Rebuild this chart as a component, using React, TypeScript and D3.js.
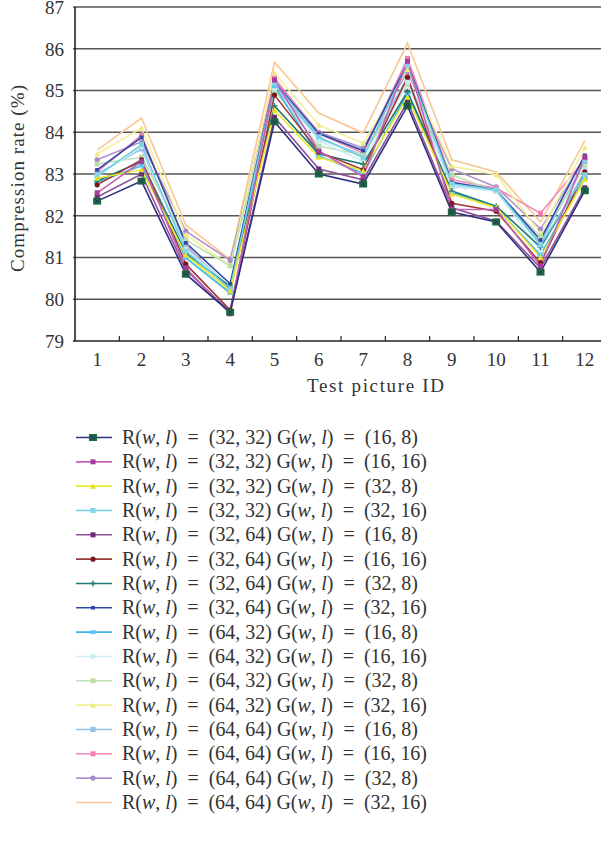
import React from "react";
import * as d3 from "d3";

const pictureIds = ["1", "2", "3", "4", "5", "6", "7", "8", "9", "10", "11", "12"];
const yTicks = [79, 80, 81, 82, 83, 84, 85, 86, 87];

const rSizes = ["32, 32", "32, 32", "32, 32", "32, 32", "32, 64", "32, 64", "32, 64", "32, 64",
  "64, 32", "64, 32", "64, 32", "64, 32", "64, 64", "64, 64", "64, 64", "64, 64"];
const gSizes = ["16, 8", "16, 16", "32, 8", "32, 16", "16, 8", "16, 16", "32, 8", "32, 16",
  "16, 8", "16, 16", "32, 8", "32, 16", "16, 8", "16, 16", "32, 8", "32, 16"];

const lineColors = ["#2e2f7e", "#c462b8", "#eeea2a", "#70d0e0", "#8e5099", "#9e3a3a", "#1f7a74", "#3048a8",
  "#3cb6e6", "#cdeef3", "#bfe0b4", "#f2f098", "#94c2ea", "#f48ab8", "#b394cc", "#f8c796"];
const markerColors = ["#1a6a3a", "#a53c9c", "#e8e020", "#88d8e8", "#6c2a78", "#7a1a1a", "#1f7a74", "#3048a8",
  "#60c8f0", "#c8ecf2", "#b8dcaa", "#eeea80", "#90c0e8", "#f080b0", "#a888c8", "#f8c796"];
const markerShapes = ["boxx", "square", "triangle", "xsquare", "square", "circle", "plus", "dot",
  "dash", "circle", "square", "triangle", "xsquare", "square", "circle", "none"];

const s1 = [82.35, 82.83, 80.6, 79.69, 84.25, 83.0, 82.76, 84.63, 82.09, 81.85, 80.65, 82.6];
const s2 = [82.55, 83.3, 80.75, 79.65, 85.25, 83.55, 82.94, 85.7, 82.15, 82.15, 80.8, 83.4];
const s3 = [82.9, 83.1, 81.06, 80.2, 84.53, 83.4, 83.08, 84.84, 82.52, 82.2, 81.0, 82.87];
const s4 = [82.95, 83.7, 81.15, 80.25, 85.18, 83.89, 83.39, 85.6, 82.76, 82.62, 81.3, 82.98];
const s5 = [82.45, 83.0, 80.7, 79.7, 84.36, 83.12, 82.86, 84.73, 82.19, 81.87, 80.75, 82.67];
const s6 = [82.74, 83.34, 80.84, 79.74, 84.89, 83.53, 83.1, 85.32, 82.3, 82.11, 80.87, 83.05];
const s7 = [82.83, 83.3, 81.1, 80.3, 84.63, 83.48, 83.24, 84.97, 82.59, 82.23, 81.25, 83.0];
const s8 = [83.1, 83.88, 81.35, 80.37, 85.2, 83.97, 83.56, 85.66, 82.8, 82.62, 81.42, 83.45];
const s9 = [82.8, 83.2, 80.99, 80.15, 85.1, 83.43, 83.02, 84.93, 82.55, 82.19, 81.06, 82.9];
const s10 = [82.95, 83.65, 81.2, 80.3, 85.05, 83.8, 83.3, 85.2, 82.72, 82.58, 81.18, 83.1];
const s11 = [83.24, 83.4, 81.42, 80.8, 85.0, 83.67, 83.46, 85.15, 82.98, 82.58, 81.5, 83.17];
const s12 = [83.48, 84.1, 81.55, 80.8, 85.42, 84.17, 83.74, 85.5, 83.19, 82.98, 81.59, 83.63];
const s13 = [83.0, 83.6, 81.25, 80.3, 85.1, 83.85, 83.45, 85.3, 82.7, 82.6, 81.35, 83.3];
const s14 = [83.05, 83.93, 81.3, 80.22, 85.3, 83.97, 83.5, 85.77, 82.86, 82.66, 82.06, 83.35];
const s15 = [83.34, 83.77, 81.63, 80.93, 85.25, 84.0, 83.62, 85.45, 83.12, 82.69, 81.68, 83.37];
const s16 = [83.57, 84.34, 81.78, 80.95, 85.68, 84.46, 83.98, 86.13, 83.34, 83.05, 81.85, 83.8];

const seriesValues = [s1, s2, s3, s4, s5, s6, s7, s8, s9, s10, s11, s12, s13, s14, s15, s16];

const FONT = "'Liberation Serif', 'DejaVu Serif', serif";

function Marker({ shape, x, y, color, line }: { shape: string; x: number; y: number; color: string; line: string }) {
  switch (shape) {
    case "boxx":
      return (
        <g>
          <rect x={x - 4} y={y - 3.5} width={8} height={7} fill={color} />
          <path d={`M${x - 2},${y - 2}L${x + 2},${y + 2}M${x - 2},${y + 2}L${x + 2},${y - 2}`} stroke={line} strokeWidth={1} />
        </g>
      );
    case "square":
      return <rect x={x - 2.5} y={y - 2.5} width={5} height={5} fill={color} />;
    case "xsquare":
      return (
        <g>
          <rect x={x - 2.5} y={y - 2.5} width={5} height={5} fill={color} />
          <path d={`M${x - 2.5},${y - 2.5}L${x + 2.5},${y + 2.5}M${x - 2.5},${y + 2.5}L${x + 2.5},${y - 2.5}`} stroke={line} strokeWidth={0.8} />
        </g>
      );
    case "triangle":
      return <path d={`M${x},${y - 3}L${x + 3},${y + 2.5}L${x - 3},${y + 2.5}Z`} fill={color} />;
    case "circle":
      return <circle cx={x} cy={y} r={2.6} fill={color} />;
    case "plus":
      return <path d={`M${x - 3},${y}L${x + 3},${y}M${x},${y - 3}L${x},${y + 3}`} stroke={color} strokeWidth={1.3} />;
    case "dot":
      return <rect x={x - 2} y={y - 1.8} width={4} height={3.6} fill={color} />;
    case "dash":
      return <rect x={x - 3} y={y - 1.8} width={6} height={3.6} fill={color} />;
    default:
      return null;
  }
}

const EQ = "\u2002=\u2002";

function RwlText({ r, g }: { r: string; g: string }) {
  return (
    <>
      <tspan>R(</tspan>
      <tspan fontStyle="italic">w</tspan>
      <tspan>, </tspan>
      <tspan fontStyle="italic">l</tspan>
      <tspan>{`)${EQ}(${r}) G(`}</tspan>
      <tspan fontStyle="italic">w</tspan>
      <tspan>, </tspan>
      <tspan fontStyle="italic">l</tspan>
      <tspan>{`)${EQ}(${g})`}</tspan>
    </>
  );
}

export default function App() {
  const W = 601;
  const H = 851;
  const x = d3.scaleBand<string>().domain(pictureIds).range([75, 607]).padding(0);
  const y = d3.scaleLinear().domain([79, 87]).range([341, 7]);
  const cx = (id: string) => (x(id) as number) + x.bandwidth() / 2;
  const line = d3.line<number>().x((_, i) => cx(pictureIds[i])).y((v) => y(v));

  const legendY0 = 437.5;
  const legendStep = 24.33;

  return (
    <svg width={W} height={H} style={{ position: "absolute", left: 0, top: 0, background: "#fff" }} fontFamily={FONT}>
      {yTicks.map((t) => (
        <line key={t} x1={73} x2={W} y1={y(t)} y2={y(t)} stroke={t === 79 ? "#222" : "#555"} strokeWidth={t === 79 ? 1.6 : 1.5} />
      ))}
      <line x1={75} x2={75} y1={y(87)} y2={y(79)} stroke="#222" strokeWidth={1.6} />
      {pictureIds.map((id) => (
        <line key={id} x1={(x(id) as number) + x.bandwidth()} x2={(x(id) as number) + x.bandwidth()} y1={y(79)} y2={y(79) - 5} stroke="#222" strokeWidth={1.2} />
      ))}
      {yTicks.map((t) => (
        <text key={t} x={64} y={y(t)} dy="0.36em" textAnchor="end" fontSize={19} fill="#333">{t}</text>
      ))}
      {pictureIds.map((id) => (
        <text key={id} x={cx(id)} y={366} textAnchor="middle" fontSize={19} fill="#333">{id}</text>
      ))}
      <text x={307} y={392} fontSize={19} fill="#333" textLength={137} lengthAdjust="spacing">Test picture ID</text>
      <text transform={`translate(24,272) rotate(-90)`} fontSize={19} fill="#333" textLength={187} lengthAdjust="spacing">Compression rate (%)</text>

      {seriesValues.map((vals, i) => (
        <path key={i} d={line(vals) || ""} fill="none" stroke={lineColors[i]} strokeWidth={1.6} />
      )).reverse()}
      {seriesValues.map((vals, i) => (
        <g key={i}>
          {vals.map((v, j) => (
            <Marker key={j} shape={markerShapes[i]} x={cx(pictureIds[j])} y={y(v)} color={markerColors[i]} line={lineColors[i]} />
          ))}
        </g>
      )).reverse()}

      {seriesValues.map((_, i) => {
        const ly = legendY0 + i * legendStep;
        const wide = gSizes[i].split(", ")[1].length > 1;
        return (
          <g key={i}>
            <line x1={76} x2={112} y1={ly} y2={ly} stroke={lineColors[i]} strokeWidth={1.6} />
            <Marker shape={markerShapes[i]} x={93} y={ly} color={markerColors[i]} line={lineColors[i]} />
            <text x={122} y={ly} dy="0.33em" fontSize={20} fill="#333" textLength={wide ? 305 : 296} lengthAdjust="spacing">
              <RwlText r={rSizes[i]} g={gSizes[i]} />
            </text>
          </g>
        );
      })}
    </svg>
  );
}
